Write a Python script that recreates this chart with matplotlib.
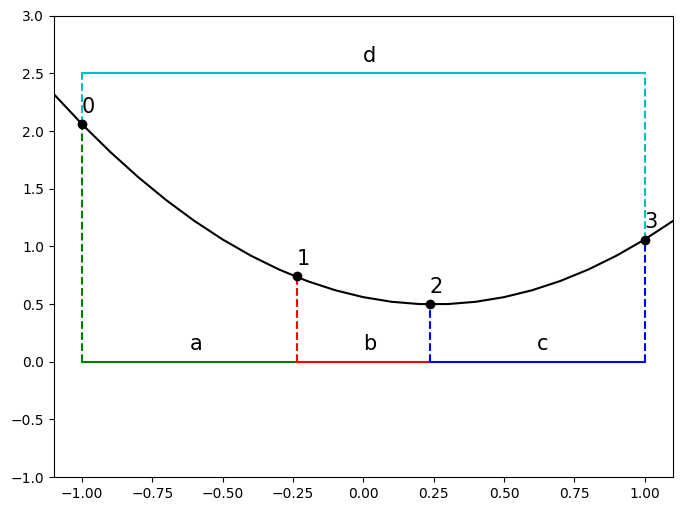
import matplotlib
matplotlib.use("Agg")
import matplotlib.pyplot as plt

# curve
curve_x = [-1.1, -1.05, -1.0, -0.95, -0.9, -0.85, -0.8, -0.75, -0.7, -0.65, -0.6,
           -0.55, -0.5, -0.45, -0.4, -0.35, -0.3, -0.25, -0.2, -0.15, -0.1, -0.05,
           0.0, 0.05, 0.1, 0.15, 0.2, 0.25, 0.3, 0.35, 0.4, 0.45, 0.5, 0.55, 0.6,
           0.65, 0.7, 0.75, 0.8, 0.85, 0.9, 0.95, 1.0, 1.05, 1.1]
curve_y = [2.32, 2.19, 2.06, 1.94, 1.82, 1.71, 1.60, 1.50, 1.40, 1.31, 1.22,
           1.14, 1.06, 0.99, 0.92, 0.86, 0.80, 0.75, 0.70, 0.66, 0.62, 0.59,
           0.56, 0.54, 0.52, 0.51, 0.50, 0.50, 0.50, 0.51, 0.52, 0.54, 0.56, 0.59, 0.62,
           0.66, 0.70, 0.75, 0.80, 0.86, 0.92, 0.99, 1.06, 1.14, 1.22]

# golden section points
pts_x = [-1.0, -0.236, 0.236, 1.0]
pts_y = [2.06, 0.74, 0.50, 1.06]
pt_labels = ["0", "1", "2", "3"]
seg_labels = ["a", "b", "c"]
seg_colors = ["g", "r", "b"]
top_y = 2.5

fig, ax = plt.subplots(figsize=(6.83, 5.11))
fig.subplots_adjust(left=0.079, right=0.985, top=0.969, bottom=0.0665)

ax.plot(curve_x, curve_y, "k-")

# segments on y=0 and dashed verticals
for i in range(3):
    ax.plot([pts_x[i], pts_x[i + 1]], [0, 0], color=seg_colors[i])
    ax.plot([pts_x[i], pts_x[i]], [0, pts_y[i]], "--", color=seg_colors[i])
    ax.text((pts_x[i] + pts_x[i + 1]) / 2, 0.1, seg_labels[i], fontsize=15)
ax.plot([pts_x[3], pts_x[3]], [0, pts_y[3]], "b--")

# d bracket
ax.plot([pts_x[0], pts_x[0]], [pts_y[0], top_y], "c--")
ax.plot([pts_x[3], pts_x[3]], [pts_y[3], top_y], "c--")
ax.plot([pts_x[0], pts_x[3]], [top_y, top_y], "c-")
ax.text((pts_x[0] + pts_x[3]) / 2, top_y + 0.1, "d", fontsize=15)

ax.plot(pts_x, pts_y, "ko")
for x, y, s in zip(pts_x, pts_y, pt_labels):
    ax.text(x, y + 0.1, s, fontsize=15)

ax.set_xlim(-1.1, 1.1)
ax.set_ylim(-1, 3)
fig.savefig("out.png", dpi=100)
